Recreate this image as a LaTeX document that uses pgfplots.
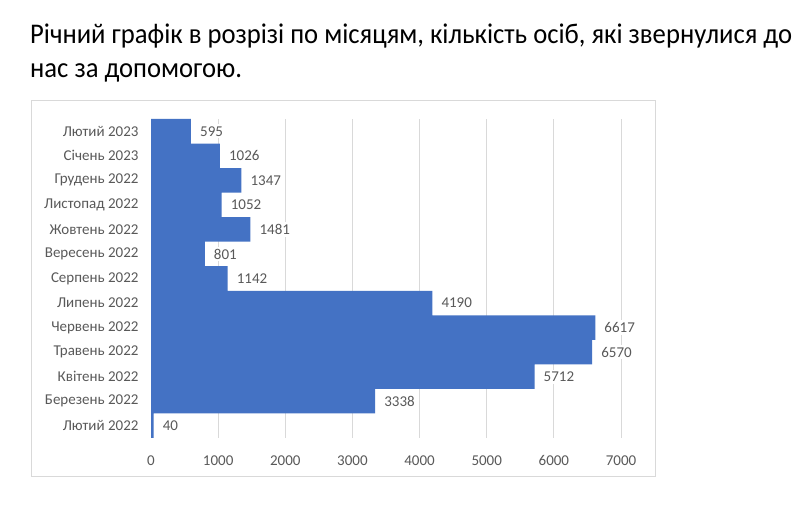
\documentclass[border=0pt]{standalone}
\usepackage{pgfplots}
\pgfplotsset{compat=1.18}
\usepackage{fontspec}
\setmainfont{Carlito}
\newfontfamily\titlefont[FakeStretch=0.935]{Carlito}
\definecolor{barblue}{HTML}{4472C4}
\definecolor{labgray}{HTML}{595959}
\definecolor{gridgray}{HTML}{D9D9D9}
\begin{document}
\begin{tikzpicture}[x=1bp,y=1bp]
\path[use as bounding box] (0,0) rectangle (812,528);
\fill[white] (0,0) rectangle (812,528);
\node[anchor=base west,inner sep=0,font=\titlefont\fontsize{28.5bp}{34bp}\selectfont] at (30,484) {Річний графік в розрізі по місяцям, кількість осіб, які звернулися до};
\node[anchor=base west,inner sep=0,font=\titlefont\fontsize{28.5bp}{34bp}\selectfont] at (30,450) {нас за допомогою.};
\draw[gridgray,line width=1bp] (31,427) rectangle (655,51);
\begin{axis}[
  at={(151bp,90bp)}, anchor=south west,
  scale only axis, width=470bp, height=319bp,
  xbar, bar width=24.54bp, bar shift=0pt,
  xmin=0, xmax=7000, ymin=-0.5, ymax=12.5,
  xtick={0,1000,...,7000},
  ytick={0,...,12},
  yticklabels={Лютий 2022,Березень 2022,Квітень 2022,Травень 2022,Червень 2022,Липень 2022,Серпень 2022,Вересень 2022,Жовтень 2022,Листопад 2022,Грудень 2022,Січень 2023,Лютий 2023},
  axis line style={draw=none},
  major tick length=0pt,
  xmajorgrids, major grid style={gridgray,line width=1bp},
  tick label style={font=\fontsize{15bp}{18bp}\selectfont,text=labgray},
  yticklabel style={xshift=-9bp},
  xticklabel style={yshift=-14bp},
  /pgf/number format/.cd,1000 sep={},assume math mode=true,
  /pgfplots/.cd,
  nodes near coords,
  nodes near coords style={anchor=west,fill=white,inner sep=2bp,xshift=7bp,font=\fontsize{15bp}{18bp}\selectfont,text=labgray},
]
\addplot[fill=barblue,draw=none] coordinates {
(40,0) (3338,1) (5712,2) (6570,3) (6617,4) (4190,5) (1142,6) (801,7) (1481,8) (1052,9) (1347,10) (1026,11) (595,12)
};
\end{axis}
\end{tikzpicture}
\end{document}
